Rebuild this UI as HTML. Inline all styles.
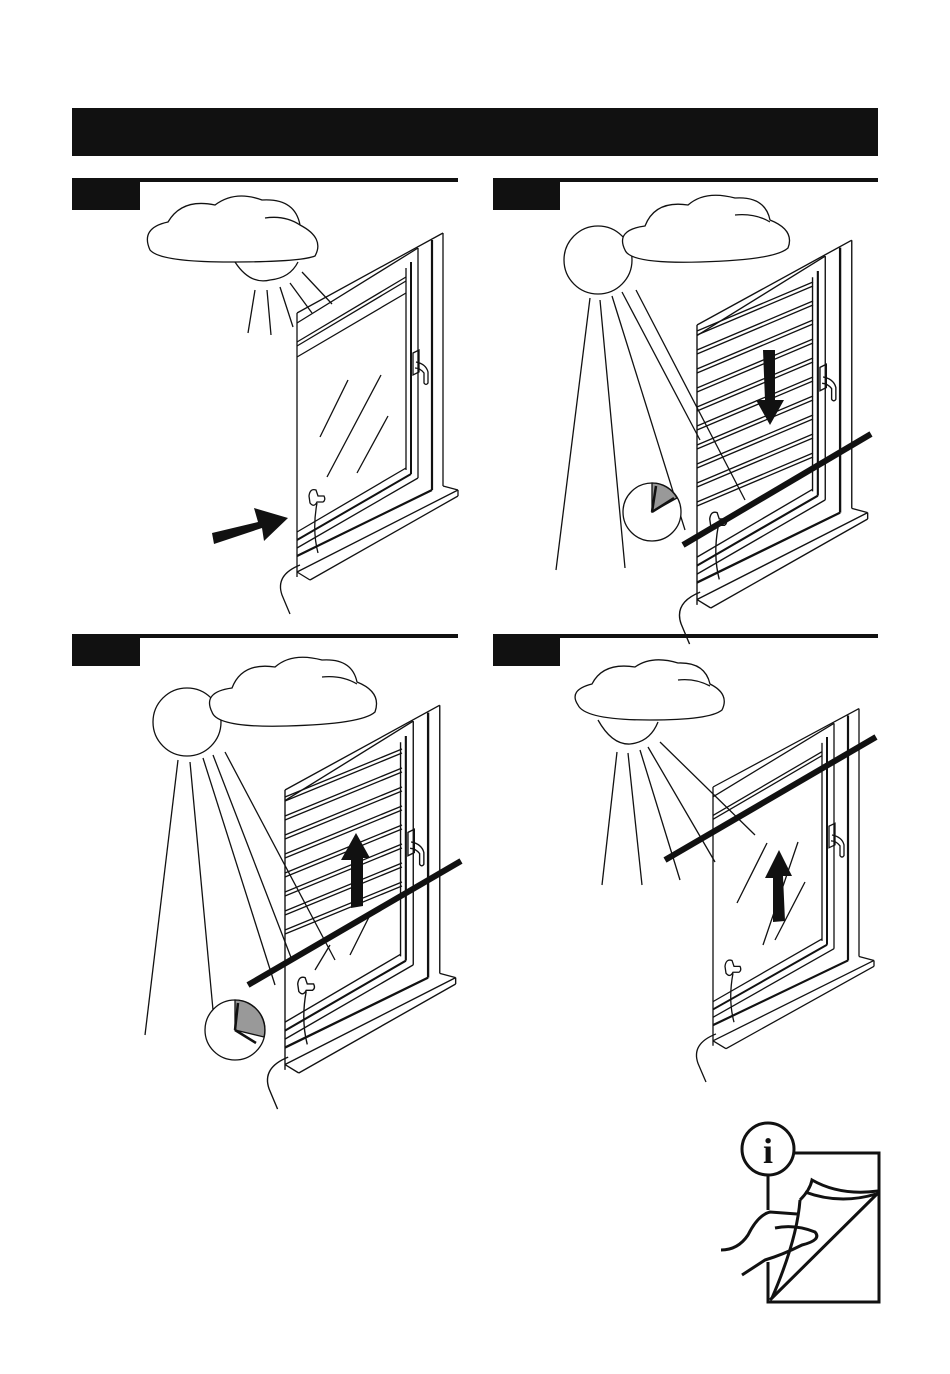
<!DOCTYPE html>
<html><head><meta charset="utf-8"><style>
html,body{margin:0;padding:0;background:#fff;}
svg{display:block;}
</style></head><body>
<svg width="950" height="1374" viewBox="0 0 950 1374" xmlns="http://www.w3.org/2000/svg" fill="none" stroke="#111" stroke-width="1.3">
<defs>
<g id="win">
  <line x1="297" y1="313" x2="297" y2="577"/>
  <line x1="297" y1="313" x2="443" y2="233"/>
  <line x1="297" y1="323" x2="418" y2="248"/>
  <line x1="443" y1="233" x2="443" y2="486"/>
  <line x1="432" y1="240" x2="432" y2="490" stroke-width="2.2"/>
  <line x1="418" y1="248" x2="418" y2="478"/>
  <line x1="411" y1="262" x2="411" y2="474" stroke-width="2"/>
  <line x1="406" y1="268" x2="406" y2="470"/>
  <line x1="297" y1="532" x2="406" y2="468"/>
  <line x1="297" y1="540" x2="411" y2="474" stroke-width="2"/>
  <line x1="297" y1="548" x2="418" y2="478"/>
  <line x1="297" y1="556" x2="432" y2="490" stroke-width="2.2"/>
  <line x1="297" y1="572" x2="458" y2="490"/>
  <line x1="310" y1="580" x2="458" y2="496"/>
  <line x1="297" y1="572" x2="310" y2="580"/>
  <line x1="443" y1="486" x2="458" y2="490"/>
  <line x1="458" y1="490" x2="458" y2="496"/>
  <path d="M413 353 L419 350 L419 372 L413 375 Z"/>
  <path d="M416 362 Q426 364 428 372 L428 383 Q426 386 424 383 L424 373 Q420 368 415 368"/>
  <path d="M309 496 Q310 488 316 490 L318 496 L324 496 Q326 500 323 502 L317 502 Q314 508 310 503 Z"/>
  <path d="M317 503 Q312 530 318 553"/>
  <path d="M300 565 Q275 575 282 595 Q287 607 290 614"/>
</g>
<g id="topband">
  <line x1="297" y1="342" x2="406" y2="277"/>
  <line x1="297" y1="346" x2="406" y2="281"/>
  <line x1="297" y1="357" x2="406" y2="293"/>
</g>
</defs>

<rect x="72" y="108" width="806" height="48" fill="#111" stroke="none"/>

<rect x="72" y="178" width="68" height="32" fill="#111" stroke="none"/>
<rect x="140" y="178" width="318" height="4" fill="#111" stroke="none"/>
<rect x="493" y="178" width="67" height="32" fill="#111" stroke="none"/>
<rect x="560" y="178" width="318" height="4" fill="#111" stroke="none"/>
<rect x="72" y="634" width="68" height="32" fill="#111" stroke="none"/>
<rect x="140" y="634" width="318" height="4" fill="#111" stroke="none"/>
<rect x="493" y="634" width="67" height="32" fill="#111" stroke="none"/>
<rect x="560" y="634" width="318" height="4" fill="#111" stroke="none"/>

<!-- PANEL 1 -->
<use href="#win"/><use href="#topband"/>
<path d="M235 262 Q250 285 270 280 Q290 278 298 262"/>
<path d="M150 250 Q140 228 168 222 Q182 198 215 205 Q235 190 262 200 Q295 198 300 225 Q325 238 315 256 Q300 262 230 262 Q160 262 150 250 Z" fill="#fff"/>
<path d="M265 218 Q285 215 300 225"/>
<line x1="255" y1="290" x2="248" y2="333"/><line x1="267" y1="290" x2="271" y2="335"/>
<line x1="280" y1="287" x2="293" y2="327"/><line x1="290" y1="283" x2="312" y2="313"/>
<line x1="302" y1="272" x2="332" y2="304"/>
<line x1="348" y1="380" x2="320" y2="437"/><line x1="381" y1="375" x2="327" y2="477"/><line x1="388" y1="416" x2="357" y2="473"/>
<polygon points="212,533 258,522 254,508 288,518 264,541 262,528 214,544" fill="#111" stroke="none"/>

<!-- PANEL 2 -->
<g transform="translate(697,325) scale(1.06) translate(-297,-313)"><use href="#win"/></g>
<g>
<path d="M697 331 L813 282 M697 335 L813 286"/>
<path d="M697 350 L813 301 M697 354 L813 305"/>
<path d="M697 369 L813 320 M697 373 L813 324"/>
<path d="M697 388 L813 339 M697 392 L813 343"/>
<path d="M697 407 L813 358 M697 411 L813 362"/>
<path d="M697 426 L813 377 M697 430 L813 381"/>
<path d="M697 445 L813 396 M697 449 L813 400"/>
<path d="M697 464 L813 415 M697 468 L813 419"/>
<path d="M697 483 L813 434 M697 487 L813 438"/>
<path d="M697 502 L813 453 M697 506 L813 457"/>
</g>
<circle cx="598" cy="260" r="34" fill="#fff"/>
<path d="M625 250 Q615 230 645 226 Q655 200 688 205 Q705 190 735 198 Q765 196 770 220 Q795 230 788 248 Q775 260 700 262 Q630 264 625 250 Z" fill="#fff"/>
<path d="M735 215 Q755 213 770 222"/>
<line x1="590" y1="298" x2="556" y2="570"/><line x1="600" y1="300" x2="625" y2="568"/>
<line x1="612" y1="296" x2="685" y2="530"/><line x1="622" y1="292" x2="700" y2="440"/>
<line x1="636" y1="290" x2="745" y2="500"/>
<circle cx="652" cy="512" r="29" fill="#fff"/>
<path d="M652 512 L652 483 A29 29 0 0 1 677 498 Z" fill="#999"/>
<path d="M652 512 L656 486 M652 512 L674 498" stroke-width="2.5"/>
<line x1="683" y1="545" x2="871" y2="434" stroke-width="6"/>
<polygon points="763,350 775,350 775,400 784,400 770,425 756,400 765,400" fill="#111" stroke="none"/>

<!-- PANEL 3 -->
<g transform="translate(285,790) scale(1.06) translate(-297,-313)"><use href="#win"/></g>
<g>
<path d="M285 797 L402 749 M285 801 L402 753"/>
<path d="M285 816 L402 768 M285 820 L402 772"/>
<path d="M285 835 L402 787 M285 839 L402 791"/>
<path d="M285 854 L402 806 M285 858 L402 810"/>
<path d="M285 873 L402 825 M285 877 L402 829"/>
<path d="M285 892 L402 844 M285 896 L402 848"/>
<path d="M285 911 L402 863 M285 915 L402 867"/>
<path d="M285 930 L402 882 M285 934 L402 886"/>
</g>
<circle cx="187" cy="722" r="34" fill="#fff"/>
<path d="M212 712 Q202 692 232 688 Q242 662 275 667 Q292 652 322 660 Q352 658 357 682 Q382 692 375 712 Q362 724 287 726 Q217 728 212 712 Z" fill="#fff"/>
<path d="M322 677 Q342 675 357 684"/>
<line x1="178" y1="760" x2="145" y2="1035"/><line x1="190" y1="762" x2="213" y2="1010"/>
<line x1="203" y1="758" x2="275" y2="985"/><line x1="213" y1="755" x2="292" y2="960"/>
<line x1="225" y1="752" x2="335" y2="960"/>
<line x1="370" y1="915" x2="350" y2="955"/><line x1="330" y1="945" x2="315" y2="970"/>
<circle cx="235" cy="1030" r="30" fill="#fff"/>
<path d="M235 1030 L235 1000 A30 30 0 0 1 264 1037 Z" fill="#999"/>
<path d="M235 1030 L238 1003 M235 1030 L256 1043" stroke-width="2.5"/>
<line x1="248" y1="985" x2="461" y2="861" stroke-width="6"/>
<polygon points="351,908 363,906 363,858 370,858 356,833 341,860 351,860" fill="#111" stroke="none"/>

<!-- PANEL 4 -->
<g transform="translate(713,787) scale(1.0,0.98) translate(-297,-313)"><use href="#win"/><use href="#topband"/></g>
<path d="M598 720 Q612 745 630 744 Q650 742 658 722"/>
<path d="M578 705 Q568 690 592 684 Q603 662 635 667 Q652 655 678 663 Q705 662 710 684 Q730 694 722 710 Q710 720 650 720 Q585 720 578 705 Z" fill="#fff"/>
<path d="M678 680 Q695 678 710 686"/>
<line x1="617" y1="752" x2="602" y2="885"/><line x1="628" y1="753" x2="642" y2="885"/>
<line x1="640" y1="750" x2="680" y2="880"/><line x1="648" y1="747" x2="715" y2="862"/>
<line x1="660" y1="742" x2="755" y2="835"/>
<line x1="767" y1="843" x2="737" y2="903"/><line x1="798" y1="842" x2="763" y2="945"/><line x1="805" y1="882" x2="775" y2="940"/>
<line x1="665" y1="860" x2="876" y2="737" stroke-width="6"/>
<polygon points="773,922 785,921 783,876 792,876 779,850 765,878 773,878" fill="#111" stroke="none"/>

<!-- info icon -->
<g stroke-width="3">
<path d="M794 1153 H879 V1302 H768 V1262"/>
<path d="M768 1174 V1210"/>
<path d="M770 1300 L878 1193"/>
<path d="M800 1200 Q797 1240 772 1298"/>
<path d="M800 1200 Q810 1190 812 1180 Q840 1196 878 1191"/>
<path d="M805 1192 Q840 1205 876 1194"/>
<path d="M721 1250 Q738 1250 748 1235 Q758 1215 770 1212 L797 1214"/>
<path d="M775 1228 Q795 1224 815 1232 Q822 1240 802 1245 Q782 1255 765 1260 L742 1275"/>
</g>
<circle cx="768" cy="1149" r="26" fill="#fff" stroke-width="3"/>
<text x="768" y="1163" font-family="Liberation Serif, serif" font-size="36" font-weight="bold" text-anchor="middle" fill="#111" stroke="none">i</text>
</svg>
</body></html>
